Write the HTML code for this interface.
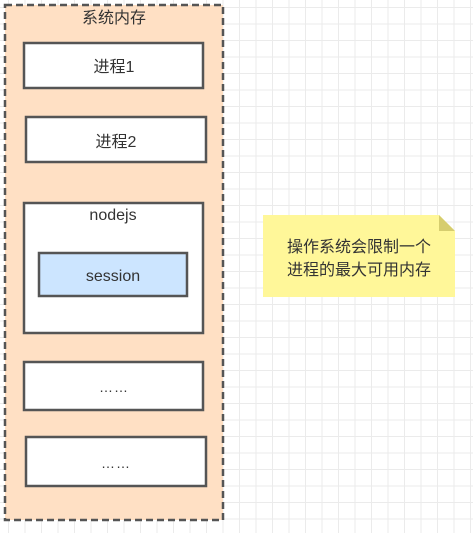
<!DOCTYPE html>
<html><head><meta charset="utf-8"><style>
html,body{margin:0;padding:0;background:#fff}
body{width:473px;height:546px;position:relative;overflow:hidden;font-family:"Liberation Sans","Noto Sans CJK SC",sans-serif}
.grid{position:absolute;left:0;top:0;width:473px;height:533px;
background-image:linear-gradient(to right,#ebebeb 1px,transparent 1px),linear-gradient(to bottom,#ebebeb 1px,transparent 1px);
background-size:16.5px 16.5px;background-position:8px 7px}
svg{position:absolute;left:0;top:0}
text{font-family:"Liberation Sans","Noto Sans CJK SC",sans-serif;fill:#333}
</style></head><body>
<div class="grid"></div>
<svg width="473" height="546">
<rect x="5" y="5" width="218" height="515" fill="#ffe0c4" stroke="#555" stroke-width="2.5" stroke-dasharray="7 4"/>
<text x="114" y="23" font-size="16" text-anchor="middle">系统内存</text>
<rect x="24" y="43" width="179" height="45" fill="#fff" stroke="#555" stroke-width="2.5"/>
<text x="114" y="72" font-size="16" text-anchor="middle">进程1</text>
<rect x="26" y="117" width="180" height="45" fill="#fff" stroke="#555" stroke-width="2.5"/>
<text x="116" y="147" font-size="16" text-anchor="middle">进程2</text>
<rect x="24" y="203" width="179" height="130" fill="#fff" stroke="#555" stroke-width="2.5"/>
<text x="113" y="220" font-size="16" text-anchor="middle">nodejs</text>
<rect x="39" y="253" width="148" height="43" fill="#cce5ff" stroke="#555" stroke-width="2.5"/>
<text x="113" y="281" font-size="16" text-anchor="middle">session</text>
<rect x="24" y="362" width="179" height="48" fill="#fff" stroke="#555" stroke-width="2.5"/>
<text x="114" y="392" font-size="14" text-anchor="middle" letter-spacing="1">……</text>
<rect x="26" y="437" width="180" height="49" fill="#fff" stroke="#555" stroke-width="2.5"/>
<text x="116" y="468" font-size="14" text-anchor="middle" letter-spacing="1">……</text>
<polygon points="263,215 439,215 455,231 455,297 263,297" fill="#fff799"/>
<polygon points="439,215 455,231 439,231" fill="#d6cd6e"/>
<text x="359" y="252" font-size="16" text-anchor="middle">操作系统会限制一个</text>
<text x="359" y="275" font-size="16" text-anchor="middle">进程的最大可用内存</text>
</svg>
</body></html>
